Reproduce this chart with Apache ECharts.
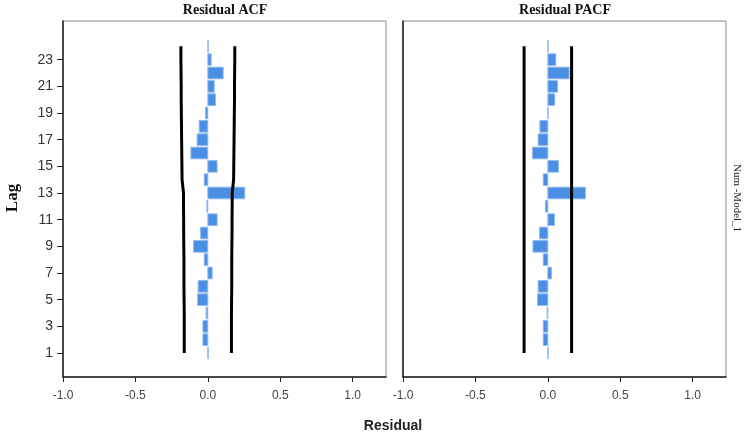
<!DOCTYPE html>
<html>
<head>
<meta charset="utf-8">
<script src="https://cdn.jsdelivr.net/npm/echarts@6.0.0/dist/echarts.min.js"></script>
<style>
  html, body { margin: 0; padding: 0; background: #fff; }
  #chart { width: 746px; height: 437px; }
</style>
</head>
<body>
<div id="chart"></div>
<script>
  // lags 1..24
  var lags = [1, 2, 3, 4, 5, 6, 7, 8, 9, 10, 11, 12, 13, 14, 15, 16, 17, 18, 19, 20, 21, 22, 23, 24];
  var acf = [0.003, -0.034, -0.034, -0.012, -0.071, -0.067, 0.030, -0.025, -0.099, -0.050, 0.064, -0.007,
             0.255, -0.025, 0.064, -0.117, -0.074, -0.060, -0.016, 0.053, 0.044, 0.106, 0.023, 0.003];
  var pacf = [0.003, -0.032, -0.032, -0.005, -0.071, -0.067, 0.025, -0.032, -0.103, -0.057, 0.046, -0.016,
              0.260, -0.032, 0.074, -0.106, -0.067, -0.055, 0.003, 0.048, 0.067, 0.147, 0.055, 0.003];
  // confidence limits (upper; lower is the negative)
  var acfLimit = [0.163, 0.163, 0.163, 0.163, 0.164, 0.165, 0.165, 0.165, 0.166, 0.167, 0.167, 0.168,
                  0.168, 0.178, 0.179, 0.180, 0.181, 0.182, 0.183, 0.184, 0.184, 0.185, 0.186, 0.186];
  var pacfLimit = [0.164, 0.164, 0.164, 0.164, 0.164, 0.164, 0.164, 0.164, 0.164, 0.164, 0.164, 0.164,
                   0.164, 0.164, 0.164, 0.164, 0.164, 0.164, 0.164, 0.164, 0.164, 0.164, 0.164, 0.164];
  var lagTicks = [1, 3, 5, 7, 9, 11, 13, 15, 17, 19, 21, 23];
  var xTicks = [-1, -0.5, 0, 0.5, 1];
  var panelTitles = ['Residual ACF', 'Residual PACF'];

  var chart = echarts.init(document.getElementById('chart'));

  function renderBar(params, api) {
    var v = api.value(0), lag = api.value(1);
    var p0 = api.coord([0, lag + 0.44]);
    var p1 = api.coord([v, lag - 0.44]);
    return {
      type: 'rect',
      shape: { x: Math.min(p0[0], p1[0]), y: p0[1], width: Math.abs(p1[0] - p0[0]), height: p1[1] - p0[1] },
      style: { fill: '#4a8fe3', stroke: '#93bdf0', lineWidth: 1 }
    };
  }

  var grids = [
    { left: 63, top: 21, width: 323, height: 356 },
    { left: 403, top: 21, width: 323, height: 356 }
  ];

  function xAxisFor(i) {
    return {
      type: 'value', gridIndex: i, min: -1, max: 1.23,
      axisLine: { show: true, onZero: false, lineStyle: { color: '#222', width: 1.5 } },
      axisTick: { show: true, length: 5, customValues: xTicks, lineStyle: { color: '#222' } },
      axisLabel: { customValues: xTicks, margin: 13, color: '#444', fontSize: 12, fontFamily: 'Liberation Sans',
                   formatter: function (v) { return v.toFixed(1); } },
      splitLine: { show: false }
    };
  }
  function yAxisFor(i) {
    return {
      type: 'value', gridIndex: i, min: -0.8, max: 25.9,
      axisLine: { show: true, onZero: false, lineStyle: { color: '#222', width: 1.5 } },
      axisTick: { show: i === 0, length: 6, customValues: lagTicks, lineStyle: { color: '#222' } },
      axisLabel: { show: i === 0, customValues: lagTicks, margin: 10, color: '#333', fontSize: 14, fontFamily: 'Liberation Sans' },
      splitLine: { show: false }
    };
  }

  function limitSeries(limits, sign, idx) {
    return {
      type: 'line', xAxisIndex: idx, yAxisIndex: idx, z: 5,
      data: lags.map(function (l, k) { return [sign * limits[k], l]; }),
      showSymbol: false, symbol: 'none',
      lineStyle: { color: '#000', width: 3 },
      silent: true
    };
  }

  var option = {
    animation: false,
    grid: grids.map(function (g) {
      return Object.assign({ show: true, borderColor: '#888', borderWidth: 1, backgroundColor: '#fff' }, g);
    }),
    xAxis: [xAxisFor(0), xAxisFor(1)],
    yAxis: [yAxisFor(0), yAxisFor(1)],
    series: [
      { type: 'custom', xAxisIndex: 0, yAxisIndex: 0, z: 2, renderItem: renderBar,
        data: lags.map(function (l, k) { return [acf[k], l]; }) },
      { type: 'custom', xAxisIndex: 1, yAxisIndex: 1, z: 2, renderItem: renderBar,
        data: lags.map(function (l, k) { return [pacf[k], l]; }) },
      limitSeries(acfLimit, 1, 0),
      limitSeries(acfLimit, -1, 0),
      limitSeries(pacfLimit, 1, 1),
      limitSeries(pacfLimit, -1, 1)
    ],
    graphic: [
      { type: 'text', x: 225, y: 10,
        style: { text: panelTitles[0], font: 'bold 14px "Liberation Serif"', fill: '#111', align: 'center', verticalAlign: 'middle' } },
      { type: 'text', x: 565, y: 10,
        style: { text: panelTitles[1], font: 'bold 14px "Liberation Serif"', fill: '#111', align: 'center', verticalAlign: 'middle' } },
      { type: 'text', x: 13, y: 198, rotation: Math.PI / 2,
        style: { text: 'Lag', font: 'bold 17px "Liberation Serif"', fill: '#111', align: 'center', verticalAlign: 'middle' } },
      { type: 'text', x: 393, y: 426,
        style: { text: 'Residual', font: 'bold 14px "Liberation Sans"', fill: '#222', align: 'center', verticalAlign: 'middle' } },
      { type: 'text', x: 737, y: 198, rotation: -Math.PI / 2,
        style: { text: 'Num -Model_1', font: '11px "Liberation Serif"', fill: '#222', align: 'center', verticalAlign: 'middle' } }
    ]
  };

  chart.setOption(option);
</script>
</body>
</html>
